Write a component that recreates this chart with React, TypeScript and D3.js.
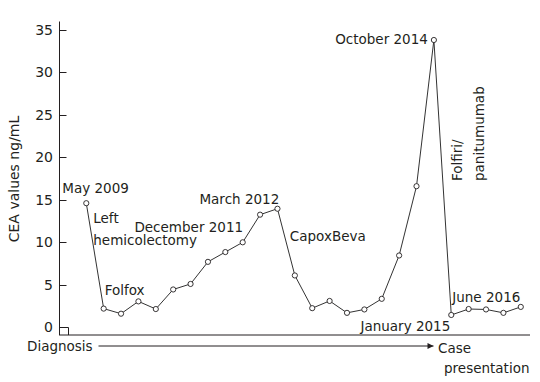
import React from "react";
import * as d3 from "d3";

const ceaValues: number[] = [
  14.6, 2.2, 1.6, 3.05, 2.15, 4.45, 5.1, 7.7, 8.85, 10.0, 13.25, 13.95,
  6.1, 2.25, 3.1, 1.7, 2.1, 3.35, 8.45, 16.6, 33.8, 1.45, 2.15, 2.1, 1.7, 2.4,
];
const yTicks: number[] = [0, 5, 10, 15, 20, 25, 30, 35];
const yLabel = "CEA values ng/mL";

type Note = { text: string; i: number; dx: number; dy: number; anchor?: string };
// annotations positioned relative to data point index
const annotations: Note[] = [
  { text: "May 2009", i: 0, dx: -24, dy: -10 },
  { text: "Left", i: 0, dx: 7, dy: 20 },
  { text: "hemicolectomy", i: 0, dx: 7, dy: 42 },
  { text: "December 2011", i: 3, dx: -4, dy: -69 },
  { text: "Folfox", i: 1, dx: 1, dy: -14 },
  { text: "March 2012", i: 11, dx: -78, dy: -5 },
  { text: "CapoxBeva", i: 12, dx: -5, dy: -34 },
  { text: "October 2014", i: 20, dx: -6, dy: 4, anchor: "end" },
  { text: "June 2016", i: 21, dx: 1, dy: -13 },
  { text: "January 2015", i: 21, dx: -1, dy: 16, anchor: "end" },
];

const FONT = "DejaVu Sans, Verdana, sans-serif";
const INK = "#231f20";

export default function App() {
  const W = 540;
  const H = 382;
  const x = d3.scaleLinear().domain([-1.57, 25.53]).range([59, 530]);
  const y = d3.scaleLinear().domain([0, 35]).range([327.3, 29.8]);
  const line = d3
    .line<number>()
    .x((_, i) => x(i))
    .y((d) => y(d));

  return (
    <svg
      width={W}
      height={H}
      style={{ position: "absolute", left: 0, top: 0, background: "#fff" }}
      fontFamily={FONT}
      fontSize={13.5}
    >
      <defs>
        <marker id="arr" viewBox="0 0 10 10" refX="10" refY="5" markerWidth="8" markerHeight="6" markerUnits="userSpaceOnUse" orient="auto">
          <path d="M0,0 L10,5 L0,10 z" fill={INK} />
        </marker>
      </defs>
      {/* y axis */}
      <line x1={59.5} x2={59.5} y1={21.5} y2={335} stroke={INK} strokeWidth={1} />
      {/* x axis */}
      <line x1={59} x2={530} y1={335} y2={335} stroke={INK} strokeWidth={1} />
      {yTicks.map((t) => (
        <g key={t}>
          <line x1={59.5} x2={t === 0 ? 68.5 : 66.5} y1={Math.round(y(t)) + 0.5} y2={Math.round(y(t)) + 0.5} stroke={INK} strokeWidth={1} />
          <text x={53} y={y(t)} dy="0.35em" textAnchor="end" fill={INK} fontSize={14}>
            {t}
          </text>
        </g>
      ))}
      <line x1={68.5} x2={68.5} y1={327.5} y2={335} stroke={INK} strokeWidth={1} />
      <text
        transform={`translate(19,${179}) rotate(-90)`}
        textAnchor="middle"
        fill={INK}
        fontSize={14}
      >
        {yLabel}
      </text>

      {/* data line */}
      <path d={line(ceaValues) || ""} fill="none" stroke="#333" strokeWidth={1} />
      {ceaValues.map((v, i) => (
        <circle key={i} cx={x(i)} cy={y(v)} r={2.6} fill="#fff" stroke={INK} strokeWidth={0.9} />
      ))}

      {annotations.map((a) => (
        <text
          key={a.text}
          x={x(a.i) + a.dx}
          y={y(ceaValues[a.i]) + a.dy}
          textAnchor={a.anchor || "start"}
          fill={INK}
        >
          {a.text}
        </text>
      ))}
      <text transform={`translate(461.5,181) rotate(-90)`} fill={INK}>
        Folfiri/
      </text>
      <text transform={`translate(483.5,181) rotate(-90)`} fill={INK}>
        panitumumab
      </text>

      {/* timeline */}
      <text x={27} y={350.5} fill={INK}>
        Diagnosis
      </text>
      <line x1={98.5} x2={433.5} y1={346} y2={346} stroke={INK} strokeWidth={1} markerEnd="url(#arr)" />
      <text x={438} y={353} fill={INK}>
        Case
      </text>
      <text x={444} y={373} fill={INK}>
        presentation
      </text>
    </svg>
  );
}
